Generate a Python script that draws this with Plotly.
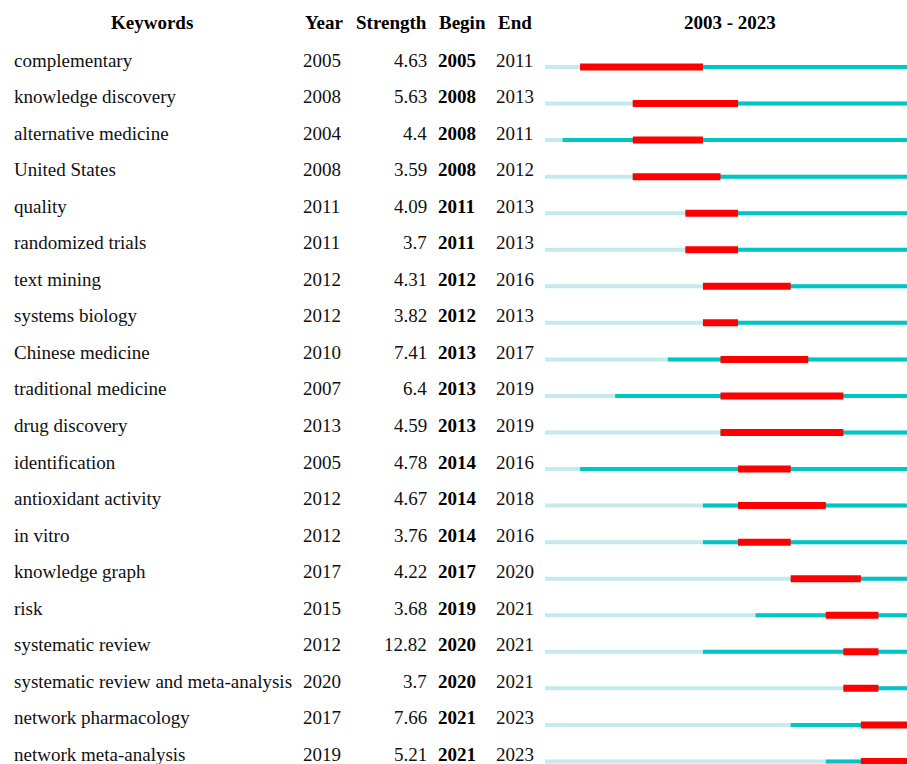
import plotly.graph_objects as go

keywords = ["complementary", "knowledge discovery", "alternative medicine", "United States",
            "quality", "randomized trials", "text mining", "systems biology", "Chinese medicine",
            "traditional medicine", "drug discovery", "identification", "antioxidant activity",
            "in vitro", "knowledge graph", "risk", "systematic review",
            "systematic review and meta-analysis", "network pharmacology", "network meta-analysis"]
years = [2005, 2008, 2004, 2008, 2011, 2011, 2012, 2012, 2010, 2007, 2013, 2005, 2012, 2012,
         2017, 2015, 2012, 2020, 2017, 2019]
strength = ["4.63", "5.63", "4.4", "3.59", "4.09", "3.7", "4.31", "3.82", "7.41", "6.4", "4.59",
            "4.78", "4.67", "3.76", "4.22", "3.68", "12.82", "3.7", "7.66", "5.21"]
begin = [2005, 2008, 2008, 2008, 2011, 2011, 2012, 2012, 2013, 2013, 2013, 2014, 2014, 2014,
         2017, 2019, 2020, 2020, 2021, 2021]
end = [2011, 2013, 2011, 2012, 2013, 2013, 2016, 2013, 2017, 2019, 2019, 2016, 2018, 2016,
       2020, 2021, 2021, 2021, 2023, 2023]
headers = ["Keywords", "Year", "Strength", "Begin", "End", "2003 - 2023"]
first_year, last_year = 2003, 2023

W, H = 907, 764
row0, dy = 60.0, 36.55
bar_off = 7.0 / dy
yrs_px = 17.55
x0_px = 545.0

n = len(keywords)
rows = list(range(n))
ybar = [r + bar_off for r in rows]
span = last_year - first_year + 1

fig = go.Figure()
fig.add_trace(go.Bar(orientation="h", y=ybar, base=[first_year] * n, x=[span] * n,
                     width=4.0 / dy, marker=dict(color="#c4ebeb", line=dict(width=0)),
                     hoverinfo="skip"))
fig.add_trace(go.Bar(orientation="h", y=ybar, base=years,
                     x=[last_year + 1 - y for y in years],
                     width=4.0 / dy, marker=dict(color="#00c5c5", line=dict(width=0)),
                     hoverinfo="skip"))
fig.add_trace(go.Bar(orientation="h", y=ybar, base=begin,
                     x=[e + 1 - b for b, e in zip(begin, end)],
                     width=7.0 / dy, marker=dict(color="#ff0000", line=dict(width=0)),
                     hoverinfo="skip"))

font = dict(family="Liberation Serif", size=19, color="#111111")
bold = dict(family="Liberation Serif", size=19, color="#000000")
ann = []
def add(text, xpx, yrow, anchor, f, bold_text=False):
    t = "<b>%s</b>" % text if bold_text else text
    ann.append(dict(text=t, x=xpx / W, xref="paper", y=yrow, yref="y", xanchor=anchor,
                    yanchor="middle", showarrow=False, font=f))

for i in rows:
    add(keywords[i], 12, i, "left", font)
    add(str(years[i]), 301, i, "left", font)
    add(strength[i], 429, i, "right", font)
    add(str(begin[i]), 436, i, "left", bold, True)
    add(str(end[i]), 494, i, "left", font)

hy = (22 - row0) / dy
add(headers[0], 152, hy, "center", bold, True)
add(headers[1], 324, hy, "center", bold, True)
add(headers[2], 391, hy, "center", bold, True)
add(headers[3], 462, hy, "center", bold, True)
add(headers[4], 515, hy, "center", bold, True)
add(headers[5], 730, hy, "center", bold, True)

fig.update_layout(
    width=W, height=H, margin=dict(l=0, r=0, t=0, b=0),
    paper_bgcolor="white", plot_bgcolor="white",
    barmode="overlay", showlegend=False, annotations=ann,
    xaxis=dict(domain=[x0_px / W, 1], range=[first_year, first_year + (W - x0_px) / yrs_px],
               visible=False, fixedrange=True),
    yaxis=dict(range=[(H - row0) / dy, -row0 / dy], visible=False, fixedrange=True),
)
fig.write_html("out.html", config={"displayModeBar": False},
               post_script="document.body.style.margin='0';document.body.style.padding='0';"
                           "document.body.style.overflow='hidden';")
